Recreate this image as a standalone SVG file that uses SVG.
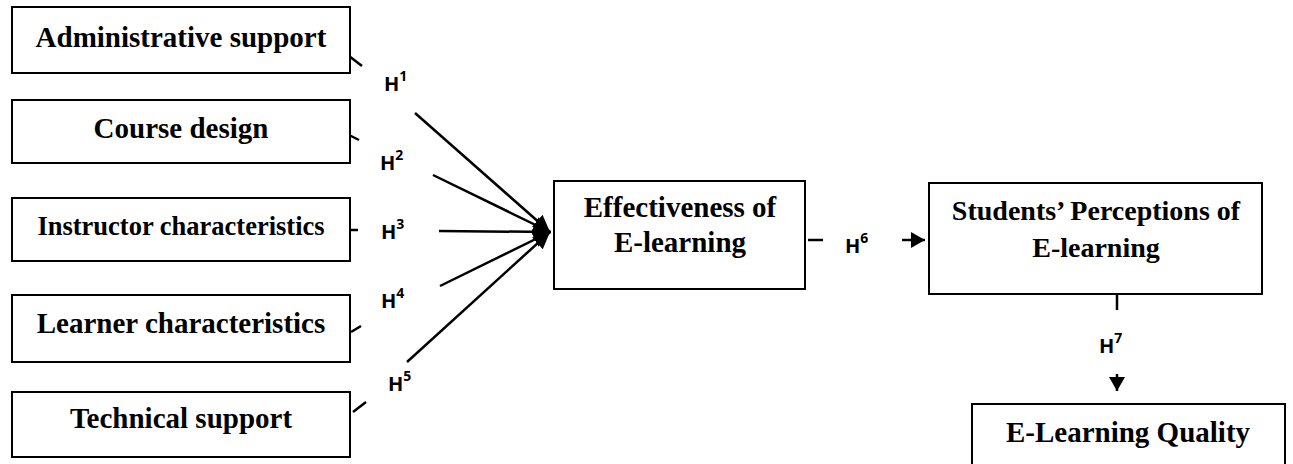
<svg xmlns="http://www.w3.org/2000/svg" width="1293" height="464" viewBox="0 0 1293 464">
<style>
.box{fill:#fff;stroke:#000;stroke-width:2}
.t{font-family:"Liberation Serif","Times New Roman",serif;font-weight:bold;font-size:29px;fill:#000;text-anchor:middle}
.h{font-family:"Open Sans","Liberation Sans",sans-serif;font-weight:bold;font-size:20px;fill:#000}
.sup{font-size:14px}
.ln{stroke:#000;stroke-width:2.5;fill:none}
</style>
<defs>
<marker id="ah" markerUnits="userSpaceOnUse" markerWidth="19" markerHeight="17" refX="17" refY="8" orient="auto">
<path d="M0,0 L17,8 L0,16 z" fill="#000"/>
</marker>
<marker id="ahs" markerUnits="userSpaceOnUse" markerWidth="15" markerHeight="16" refX="14" refY="8" orient="auto">
<path d="M0,0 L14,8 L0,16 z" fill="#000"/>
</marker>
</defs>
<g id="connectors">
<line class="ln" x1="349" y1="56" x2="362" y2="66"/>
<line class="ln" x1="349" y1="135" x2="359" y2="140"/>
<line class="ln" x1="350" y1="230" x2="358" y2="230"/>
<line class="ln" x1="351" y1="332" x2="361" y2="326"/>
<line class="ln" x1="353" y1="412" x2="366" y2="402"/>
<line class="ln" x1="415" y1="113" x2="550" y2="232" marker-end="url(#ah)"/>
<line class="ln" x1="433" y1="175" x2="550" y2="232" marker-end="url(#ah)"/>
<line class="ln" x1="439" y1="231" x2="551" y2="232" marker-end="url(#ah)"/>
<line class="ln" x1="440" y1="286" x2="550" y2="232" marker-end="url(#ah)"/>
<line class="ln" x1="407" y1="362" x2="550" y2="232" marker-end="url(#ah)"/>
<line class="ln" x1="808" y1="240" x2="823" y2="240"/>
<line class="ln" x1="902" y1="240" x2="925" y2="240" marker-end="url(#ahs)"/>
<line class="ln" x1="1117" y1="294" x2="1117" y2="310"/>
<line class="ln" x1="1117" y1="374" x2="1117" y2="391" marker-end="url(#ahs)"/>
<text class="h" x="384" y="91">H<tspan class="sup" dy="-10">1</tspan></text>
<text class="h" x="380" y="170">H<tspan class="sup" dy="-10">2</tspan></text>
<text class="h" x="381" y="239">H<tspan class="sup" dy="-10">3</tspan></text>
<text class="h" x="381" y="308">H<tspan class="sup" dy="-10">4</tspan></text>
<text class="h" x="388" y="391">H<tspan class="sup" dy="-10">5</tspan></text>
<text class="h" x="845" y="253">H<tspan class="sup" dy="-10">6</tspan></text>
<text class="h" x="1099" y="353">H<tspan class="sup" dy="-10">7</tspan></text>
</g>
<g id="admin">
<rect class="box" x="12" y="7" width="338" height="66"/>
<text class="t" x="181" y="47">Administrative support</text>
</g>
<g id="course">
<rect class="box" x="12" y="100" width="338" height="63"/>
<text class="t" x="181" y="138">Course design</text>
</g>
<g id="instructor">
<rect class="box" x="12" y="198" width="338" height="63"/>
<text class="t" x="181" y="235" style="font-size:26.5px">Instructor characteristics</text>
</g>
<g id="learner">
<rect class="box" x="12" y="295" width="338" height="67"/>
<text class="t" x="181" y="333">Learner characteristics</text>
</g>
<g id="technical">
<rect class="box" x="12" y="392" width="338" height="65"/>
<text class="t" x="181" y="428">Technical support</text>
</g>
<g id="effectiveness">
<rect class="box" x="554" y="181" width="251" height="108"/>
<text class="t" x="680" y="217">Effectiveness of</text>
<text class="t" x="680" y="252">E-learning</text>
</g>
<g id="perceptions">
<rect class="box" x="929" y="183" width="333" height="111"/>
<text class="t" x="1096" y="220" style="font-size:28px">Students’ Perceptions of</text>
<text class="t" x="1096" y="257" style="font-size:28px">E-learning</text>
</g>
<g id="quality">
<rect class="box" x="972" y="404" width="313" height="70"/>
<text class="t" x="1128" y="442">E-Learning Quality</text>
</g>
</svg>
